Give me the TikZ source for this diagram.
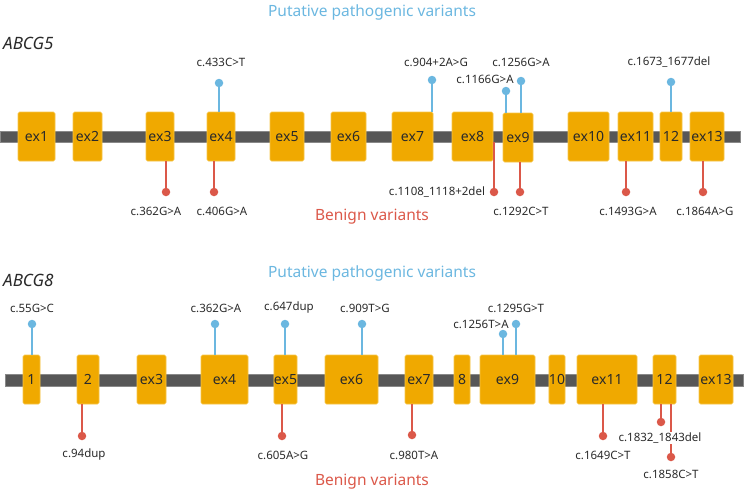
\documentclass[tikz,border=0pt]{standalone}
\usepackage{fontspec}
\setmainfont{Noto Sans}
\begin{document}
\begin{tikzpicture}[x=1pt,y=-1pt,
  exonbox/.style={fill=exo, draw=exoline, line width=0.6pt, rounded corners=1.5pt, inner sep=0pt, minimum height=49pt, font=\fontsize{14}{14}\selectfont, text=txt},
  bar/.style={fill=bargray, draw=bargray!70, line width=0.4pt},
  dotb/.style={circle, fill=pblue, inner sep=0pt, minimum size=8.5pt},
  dotr/.style={circle, fill=bred, inner sep=0pt, minimum size=8.5pt},
  lineb/.style={draw=pblue, line width=1.1pt},
  liner/.style={draw=bred, line width=1.1pt},
  lab/.style={font=\fontsize{11.5}{11.5}\selectfont, text=txt, inner sep=1pt},
  ttl/.style={font=\fontsize{15.5}{15.5}\selectfont},
  gene/.style={font=\fontsize{17}{17}\selectfont\itshape, anchor=west, inner sep=0pt, text=txt}
]
\definecolor{exo}{HTML}{F0A900}
\definecolor{exoline}{HTML}{F6C548}
\definecolor{bargray}{HTML}{575757}
\definecolor{pblue}{HTML}{6BB7E0}
\definecolor{bred}{HTML}{DB5849}
\definecolor{txt}{HTML}{2A2A2A}
\useasboundingbox (0,0) rectangle (745,493);

%%%%%%%%%%%%%%%% ABCG5 %%%%%%%%%%%%%%%%
\node[ttl, text=pblue] (t5a) at (372,12) {Putative pathogenic variants};
\node[gene] (g5) at (3,43) {ABCG5};
\fill[bar] (0,131) rectangle (740,142);
\coordinate (bar5) at (0,142);
\node[exonbox, minimum width=37pt] (a1) at (36.5,136.5) {ex1};
\node[exonbox, minimum width=29pt] (a2) at (87.5,136.5) {ex2};
\node[exonbox, minimum width=28pt] (a3) at (160,136.5) {ex3};
\node[exonbox, minimum width=28pt] (a4) at (221,136.5) {ex4};
\node[exonbox, minimum width=34pt] (a5) at (287,136.5) {ex5};
\node[exonbox, minimum width=35pt] (a6) at (348.5,136.5) {ex6};
\node[exonbox, minimum width=41pt] (a7) at (412.5,136.5) {ex7};
\node[exonbox, minimum width=41pt] (a8) at (472.5,136.5) {ex8};
\node[exonbox, minimum width=30pt] (a9) at (518,137.5) {ex9};
\node[exonbox, minimum width=41pt] (a10) at (588.5,136.5) {ex10};
\node[exonbox, minimum width=35pt] (a11) at (635.5,136.5) {ex11};
\node[exonbox, minimum width=22pt] (a12) at (671,136.5) {12};
\node[exonbox, minimum width=34pt] (a13) at (707,136.5) {ex13};

% pathogenic
\node[dotb] (p1) at (219,83) {};
\draw[lineb] (p1.center) -- (p1.center |- a4.north);
\node[lab] (lp1) at (221,62) {c.433C>T};
\node[dotb] (p2) at (432,80) {};
\draw[lineb] (p2.center) -- (p2.center |- a7.north);
\node[lab] (lp2) at (436,62) {c.904+2A>G};
\node[dotb] (p3) at (506,91) {};
\draw[lineb] (p3.center) -- (p3.center |- a9.north);
\node[lab] (lp3) at (485,79) {c.1166G>A};
\node[dotb] (p4) at (521,81) {};
\draw[lineb] (p4.center) -- (p4.center |- a9.north);
\node[lab] (lp4) at (521,62) {c.1256G>A};
\node[dotb] (p5) at (671,82) {};
\draw[lineb] (p5.center) -- (p5.center |- a12.north);
\node[lab] (lp5) at (669,62) {c.1673\_1677del};

% benign
\node[dotr] (b1) at (166,192) {};
\draw[liner] (b1.center) -- (b1.center |- a3.south);
\node[lab] (lb1) at (156,211) {c.362G>A};
\node[dotr] (b2) at (214,192) {};
\draw[liner] (b2.center) -- (b2.center |- a4.south);
\node[lab] (lb2) at (222,211) {c.406G>A};
\node[dotr] (b3) at (494,192) {};
\draw[liner] (b3.center) -- (b3.center |- bar5);
\node[lab] (lb3) at (437,192) {c.1108\_1118+2del};
\node[dotr] (b4) at (520,192) {};
\draw[liner] (b4.center) -- (b4.center |- a9.south);
\node[lab] (lb4) at (521,211) {c.1292C>T};
\node[dotr] (b5) at (626,192) {};
\draw[liner] (b5.center) -- (b5.center |- a11.south);
\node[lab] (lb5) at (628,211) {c.1493G>A};
\node[dotr] (b6) at (703,192) {};
\draw[liner] (b6.center) -- (b6.center |- a13.south);
\node[lab] (lb6) at (705,211) {c.1864A>G};
\node[ttl, text=bred] (t5b) at (372,217) {Benign variants};

%%%%%%%%%%%%%%%% ABCG8 %%%%%%%%%%%%%%%%
\node[ttl, text=pblue] (t8a) at (372,273) {Putative pathogenic variants};
\node[gene] (g8) at (3,280) {ABCG8};
\fill[bar] (5,374) rectangle (743,386);
\node[exonbox, minimum width=17pt] (c1) at (31.5,379.5) {1};
\node[exonbox, minimum width=22pt] (c2) at (88,379.5) {2};
\node[exonbox, minimum width=29pt] (c3) at (151.5,379.5) {ex3};
\node[exonbox, minimum width=47pt] (c4) at (224.5,379.5) {ex4};
\node[exonbox, minimum width=23pt] (c5) at (285.5,379.5) {ex5};
\node[exonbox, minimum width=53pt] (c6) at (351.5,379.5) {ex6};
\node[exonbox, minimum width=28pt] (c7) at (419,379.5) {ex7};
\node[exonbox, minimum width=16pt] (c8) at (462,379.5) {8};
\node[exonbox, minimum width=55pt] (c9) at (507.5,379.5) {ex9};
\node[exonbox, minimum width=16pt] (c10) at (557,379.5) {10};
\node[exonbox, minimum width=60pt] (c11) at (607,379.5) {ex11};
\node[exonbox, minimum width=23pt] (c12) at (664.5,379.5) {12};
\node[exonbox, minimum width=34pt] (c13) at (716,379.5) {ex13};

% pathogenic
\node[dotb] (q1) at (32,324) {};
\draw[lineb] (q1.center) -- (q1.center |- c1.north);
\node[lab] (lq1) at (32,308) {c.55G>C};
\node[dotb] (q2) at (215,324) {};
\draw[lineb] (q2.center) -- (q2.center |- c4.north);
\node[lab] (lq2) at (216,308) {c.362G>A};
\node[dotb] (q3) at (285,324) {};
\draw[lineb] (q3.center) -- (q3.center |- c5.north);
\node[lab] (lq3) at (289,308) {c.647dup};
\node[dotb] (q4) at (362,324) {};
\draw[lineb] (q4.center) -- (q4.center |- c6.north);
\node[lab] (lq4) at (365,308) {c.909T>G};
\node[dotb] (q5) at (503,334) {};
\draw[lineb] (q5.center) -- (q5.center |- c9.north);
\node[lab] (lq5) at (481,324) {c.1256T>A};
\node[dotb] (q6) at (516,324) {};
\draw[lineb] (q6.center) -- (q6.center |- c9.north);
\node[lab] (lq6) at (516,308) {c.1295G>T};

% benign
\node[dotr] (r1) at (82,436) {};
\draw[liner] (r1.center) -- (r1.center |- c2.south);
\node[lab] (lr1) at (84,455) {c.94dup};
\node[dotr] (r2) at (282,436) {};
\draw[liner] (r2.center) -- (r2.center |- c5.south);
\node[lab] (lr2) at (283,455) {c.605A>G};
\node[dotr] (r3) at (412,435) {};
\draw[liner] (r3.center) -- (r3.center |- c7.south);
\node[lab] (lr3) at (414,455) {c.980T>A};
\node[dotr] (r4) at (603,436) {};
\draw[liner] (r4.center) -- (r4.center |- c11.south);
\node[lab] (lr4) at (603,455) {c.1649C>T};
\node[dotr] (r6) at (671,457) {};
\draw[liner] (r6.center) -- (r6.center |- c12.south);
\node[dotr] (r5) at (661,422) {};
\draw[liner] (r5.center) -- (r5.center |- c12.south);
\node[lab, fill=white] (lr5) at (660,438) {c.1832\_1843del};
\node[lab] (lr6) at (671,474) {c.1858C>T};
\node[ttl, text=bred] (t8b) at (372,482) {Benign variants};
\end{tikzpicture}
\end{document}
